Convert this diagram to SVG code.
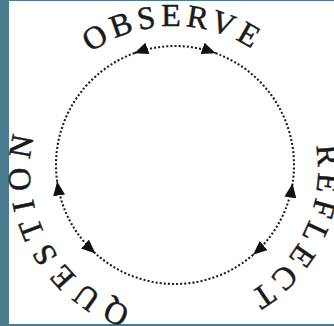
<svg xmlns="http://www.w3.org/2000/svg" xmlns:xlink="http://www.w3.org/1999/xlink" width="334" height="326" viewBox="0 0 334 326">
  <style>
    .frame { fill: #4b7b8f; }
    .dot { fill: none; stroke: #1c1c1c; stroke-width: 2.1; stroke-dasharray: 2 2.1; }
    .lbl { font-family: "Liberation Serif", "Times New Roman", serif; font-size: 32px; fill: #1a1a1a; stroke: #1a1a1a; stroke-width: 0.5; }
  </style>
  <defs>
    <path id="textRing" d="M174,314 A144,144 0 1 1 174,26 A144,144 0 1 1 174,314"/>
    <marker id="arr" viewBox="0 0 14 12" refX="14" refY="6" markerWidth="14" markerHeight="12" markerUnits="userSpaceOnUse" orient="auto-start-reverse">
      <path d="M0,0 L14,6 L0,12 Z" fill="#111"/>
    </marker>
  </defs>
  <rect x="0" y="0" width="334" height="326" fill="#ffffff"/>
  <rect class="frame" x="0" y="0" width="9" height="326"/>
  <rect class="frame" x="0" y="0" width="334" height="1"/>
  <rect class="frame" x="0" y="324" width="334" height="2"/>

  <g id="connectors">
    <path class="dot" d="M215.70,53.18 A119,119 0 0 1 292.54,183.62"/>
    <path class="dot" d="M253.07,254.81 A119,119 0 0 1 95.37,253.43"/>
    <path class="dot" d="M57.16,181.56 A119,119 0 0 1 134.30,53.18"/>
    <path class="dot" d="M134.30,53.18 A119,119 0 0 1 215.70,53.18" marker-start="url(#arr)" marker-end="url(#arr)"/>
    <path class="dot" d="M292.54,183.62 A119,119 0 0 1 253.07,254.81" marker-start="url(#arr)" marker-end="url(#arr)"/>
    <path class="dot" d="M95.37,253.43 A119,119 0 0 1 57.16,181.56" marker-start="url(#arr)" marker-end="url(#arr)"/>
  </g>

  <g id="observe">
    <text class="lbl" letter-spacing="4.7"><textPath href="#textRing" xlink:href="#textRing" startOffset="363">OBSERVE</textPath></text>
  </g>
  <g id="reflect">
    <text class="lbl" letter-spacing="5.4"><textPath href="#textRing" xlink:href="#textRing" startOffset="653.8">REFLECT</textPath></text>
  </g>
  <g id="question">
    <text class="lbl" letter-spacing="8"><textPath href="#textRing" xlink:href="#textRing" startOffset="43.7">QUESTION</textPath></text>
  </g>
</svg>
